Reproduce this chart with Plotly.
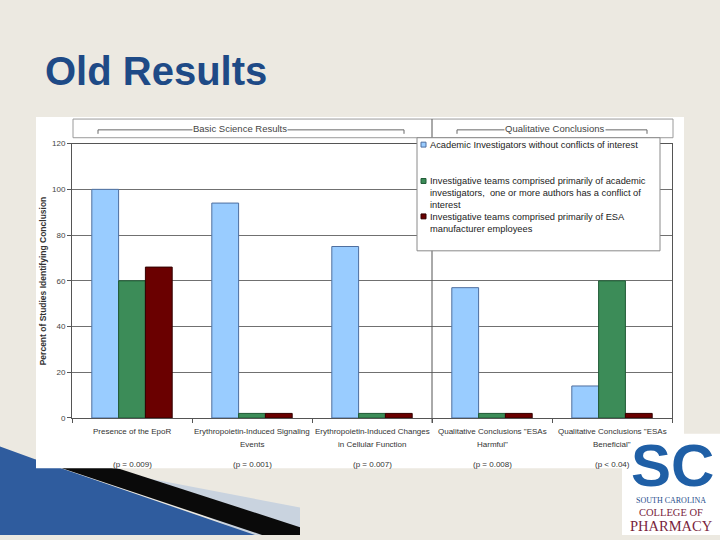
import plotly.graph_objects as go

# data
categories = [
    "Presence of the EpoR",
    "Erythropoietin-Induced Signaling<br>Events",
    "Erythropoietin-Induced Changes<br>in Cellular Function",
    "Qualitative Conclusions \"ESAs<br>Harmful\"",
    "Qualitative Conclusions \"ESAs<br>Beneficial\"",
]
p_values = ["(p = 0.009)", "(p = 0.001)", "(p = 0.007)", "(p = 0.008)", "(p < 0.04)"]
academic = [100, 94, 75, 57, 14]
academic_coi = [60, 2, 2, 2, 60]
manufacturer = [66, 2, 2, 2, 2]
series_names = [
    "Academic Investigators without conflicts of interest",
    "Investigative teams comprised primarily of academic<br>investigators,  one or more authors has a conflict of<br>interest",
    "Investigative teams comprised primarily of ESA<br>manufacturer employees",
]
colors = ["#99CCFF", "#3C8C58", "#6A0000"]
outlines = ["#4F6F9F", "#1F5A35", "#330000"]

W, H = 720, 540


def fx(px):
    return px / W


def fy(py):
    return 1 - py / H


fig = go.Figure()
for vals, name, c, oc in zip([academic, academic_coi, manufacturer], series_names, colors, outlines):
    fig.add_trace(go.Bar(
        x=categories, y=vals, name=name,
        marker=dict(color=c, line=dict(color=oc, width=1)),
        showlegend=False,
    ))

shapes = []
annotations = []


def text(t, x, y, size, color, family="Arial", xanchor="center", yanchor="middle",
         xref="paper", **kw):
    d = dict(text=t, x=x, y=y, xref=xref, yref="paper", xanchor=xanchor, yanchor=yanchor,
             showarrow=False, font=dict(family=family, size=size, color=color))
    d.update(kw)
    annotations.append(d)


# slide decoration (bottom left swoosh)
shapes.append(dict(type="path", xref="paper", yref="paper",
                   path=f"M {fx(90)} {fy(471)} L {fx(300)} {fy(512)} L {fx(300)} {fy(540)} L {fx(250)} {fy(540)} Z",
                   fillcolor="#C9D3DF", line=dict(width=0), layer="below"))
shapes.append(dict(type="path", xref="paper", yref="paper",
                   path=f"M {fx(35)} {fy(463)} L {fx(120)} {fy(473)} L {fx(300)} {fy(532)} L {fx(300)} {fy(540)} L {fx(262)} {fy(540)} Z",
                   fillcolor="#0A0A0A", line=dict(width=0), layer="below"))
shapes.append(dict(type="path", xref="paper", yref="paper",
                   path=f"M 0 {fy(450)} L {fx(35)} {fy(463)} L {fx(255)} {fy(540)} L 0 0 Z",
                   fillcolor="#2F5C9E", line=dict(width=0), layer="below"))

# white chart background
shapes.append(dict(type="rect", xref="paper", yref="paper",
                   x0=fx(36), x1=fx(684), y0=fy(472), y1=fy(115),
                   fillcolor="white", line=dict(width=0), layer="below"))
# header box
shapes.append(dict(type="rect", xref="paper", yref="paper",
                   x0=fx(73), x1=fx(673), y0=fy(136), y1=fy(117),
                   fillcolor="white", line=dict(color="#9A9A9A", width=1)))
# brackets
for x0, x1 in [(98, 404), (457, 647)]:
    shapes.append(dict(type="path", xref="paper", yref="paper",
                       path=f"M {fx(x0)} {fy(132)} L {fx(x0)} {fy(128)} L {fx(x1)} {fy(128)} L {fx(x1)} {fy(132)}",
                       line=dict(color="#666666", width=1)))
text("Basic Science Results", fx(240), fy(127), 9.5, "#444444", bgcolor="white", borderpad=0)
text("Qualitative Conclusions", fx(555), fy(127), 9.5, "#444444", bgcolor="white", borderpad=0)

# separator between the two groups
shapes.append(dict(type="line", xref="paper", yref="paper",
                   x0=fx(432), x1=fx(432), y0=fy(426), y1=fy(117),
                   line=dict(color="#555555", width=1)))

# manual legend
shapes.append(dict(type="rect", xref="paper", yref="paper",
                   x0=fx(417), x1=fx(660), y0=fy(251), y1=fy(136),
                   fillcolor="white", line=dict(color="#8A8A8A", width=1)))
for yc, c, oc, name in zip([143, 180, 216], colors, outlines, series_names):
    shapes.append(dict(type="rect", xref="paper", yref="paper",
                       x0=fx(421), x1=fx(426), y0=fy(yc + 2.5), y1=fy(yc - 2.5),
                       fillcolor=c, line=dict(color=oc, width=1)))
    text(name, fx(428), fy(yc - 7), 9.3, "#222222", xanchor="left", yanchor="top", align="left")

# category labels (one annotation per line) and p-values
for cat, p in zip(categories, p_values):
    for i, line in enumerate(cat.split("<br>")):
        text(line, cat, fy(435 + 13 * i), 8, "#333333", xref="x")
    text(p, cat, fy(468), 8, "#333333", xref="x")

# y axis title
text("<b>Percent of Studies Identifying Conclusion</b>", fx(43), fy(282), 8.5, "#333333", textangle=-90)

# slide title
text("<b>Old Results</b>", fx(43), fy(68), 40, "#1E4A86", xanchor="left")

# college logo
shapes.append(dict(type="rect", xref="paper", yref="paper",
                   x0=fx(622), x1=1, y0=0, y1=fy(437),
                   fillcolor="white", line=dict(width=0)))
text("<b>SC</b>", fx(672), fy(469), 60, "#1F5FA6", family="Arial Black, Arial")
text("SOUTH CAROLINA", fx(671), fy(505), 8, "#1F4E8C", family="Liberation Serif")
text("COLLEGE OF", fx(671), fy(517), 10.5, "#7A1F3D", family="Liberation Serif")
text("PHARMACY", fx(671), fy(531), 14.5, "#7A1F3D", family="Liberation Serif")

fig.update_layout(
    width=W, height=H,
    margin=dict(l=0, r=0, t=0, b=0),
    paper_bgcolor="#ECE9E1",
    plot_bgcolor="#B3B3B3",
    barmode="group",
    bargap=0.33,
    bargroupgap=0,
    shapes=shapes,
    annotations=annotations,
    xaxis=dict(domain=[fx(72), fx(672)], showticklabels=False, ticks="outside",
               tickson="boundaries", ticklen=4, tickcolor="#555555",
               showline=True, linecolor="#555555", mirror=True, showgrid=False),
    yaxis=dict(domain=[fy(421), fy(142)], range=[0, 120], dtick=20,
               ticks="outside", ticklen=4, tickcolor="#555555",
               showline=True, linecolor="#555555", mirror=True,
               gridcolor="#707070", gridwidth=1, zeroline=False,
               tickfont=dict(family="Arial", size=8, color="#444444")),
)

fig.write_html("out.html", config={"displayModeBar": False},
               post_script="document.body.style.margin='0';")
